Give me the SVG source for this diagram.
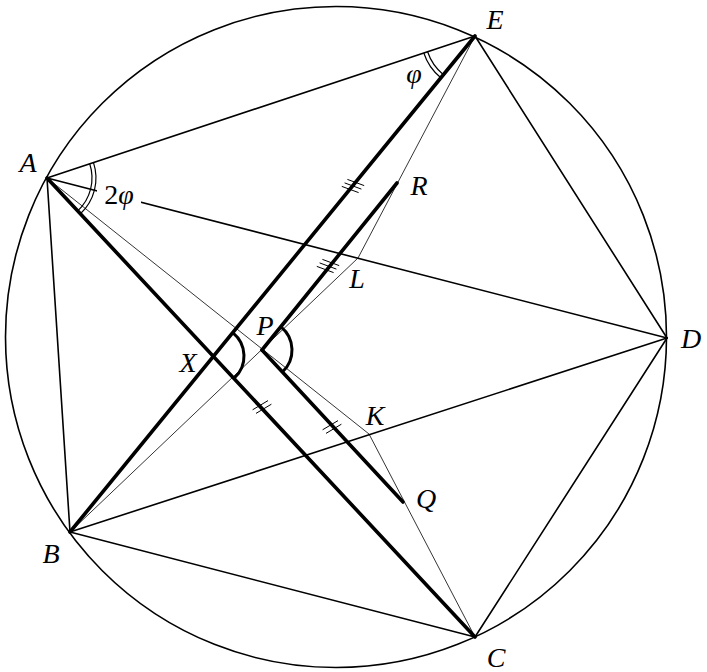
<svg xmlns="http://www.w3.org/2000/svg" width="707" height="672" viewBox="0 0 707 672">
<style>
.med{stroke:#000;stroke-width:1.6;fill:none;stroke-linecap:round}
.thin{stroke:#000;stroke-width:0.8;fill:none}
.thick{stroke:#000;stroke-width:3.6;fill:none;stroke-linecap:round}
.arc1{stroke:#000;stroke-width:1.2;fill:none}
.arc3{stroke:#000;stroke-width:3;fill:none}
.tick{stroke:#000;stroke-width:1;fill:none}
.lbl{font-family:"Liberation Serif",serif;font-style:italic;font-size:28px;text-anchor:middle;fill:#000}
</style>
<rect width="707" height="672" fill="#fff"/>
<g id="connectors">
<circle class="med" cx="336" cy="337" r="330.5"/>
<line class="med" x1="47" y1="178" x2="475" y2="36"/>
<line class="med" x1="475" y1="36" x2="667" y2="338"/>
<line class="med" x1="667" y1="338" x2="475" y2="637"/>
<line class="med" x1="475" y1="637" x2="70" y2="532"/>
<line class="med" x1="70" y1="532" x2="47" y2="178"/>
<line class="med" x1="47" y1="178" x2="667" y2="338"/>
<line class="med" x1="70" y1="532" x2="667" y2="338"/>
<polyline class="thin" points="47,178 369,434 475,637"/>
<polyline class="thin" points="70,532 358,258 475,36"/>
<line class="thick" x1="47" y1="178" x2="475" y2="637"/>
<line class="thick" x1="70" y1="532" x2="475" y2="36"/>
<line class="thick" x1="262" y1="350" x2="397" y2="183"/>
<line class="thick" x1="262" y1="350" x2="403" y2="502"/>
</g>
<g id="angles">
<path class="arc1" d="M89.7,163.8 A45,45 0 0 1 77.7,210.9"/>
<path class="arc1" d="M93.5,162.6 A49,49 0 0 1 80.4,213.8"/>
<path class="arc1" d="M427.6,51.8 A50,50 0 0 0 443.4,74.7"/>
<path class="arc1" d="M423.8,53 A54,54 0 0 0 440.8,77.8"/>
<path class="arc3" d="M233,332.8 A30,30 0 0 1 234.4,378"/>
<path class="arc3" d="M281,326.8 A30,30 0 0 1 282.4,372"/>
</g>
<g id="ticks">
<line class="tick" x1="341.8" y1="186.4" x2="358.6" y2="192.6"/>
<line class="tick" x1="344.6" y1="182.9" x2="361.4" y2="189.1"/>
<line class="tick" x1="347.4" y1="179.4" x2="364.2" y2="185.6"/>
<line class="tick" x1="316.8" y1="266.4" x2="333.6" y2="272.6"/>
<line class="tick" x1="319.6" y1="262.9" x2="336.4" y2="269.1"/>
<line class="tick" x1="322.4" y1="259.4" x2="339.2" y2="265.6"/>
<line class="tick" x1="252.6" y1="409.8" x2="268" y2="400.6"/>
<line class="tick" x1="256" y1="413.4" x2="271.4" y2="404.2"/>
<line class="tick" x1="322.6" y1="429.8" x2="338" y2="420.6"/>
<line class="tick" x1="326" y1="433.4" x2="341.4" y2="424.2"/>
</g>
<g id="labels">
<rect x="97" y="182" width="44" height="31" fill="#fff"/>
<text x="119" y="204" font-family="Liberation Serif, serif" font-size="28" text-anchor="middle">2<tspan font-style="italic">φ</tspan></text>
<text class="lbl" x="414" y="83">φ</text>
</g>
<g id="node-A"><text class="lbl" x="28" y="172">A</text></g>
<g id="node-B"><text class="lbl" x="51" y="563">B</text></g>
<g id="node-C"><text class="lbl" x="496" y="667">C</text></g>
<g id="node-D"><text class="lbl" x="691" y="348">D</text></g>
<g id="node-E"><text class="lbl" x="495" y="29">E</text></g>
<g id="node-X"><text class="lbl" x="188" y="372">X</text></g>
<g id="node-P"><text class="lbl" x="265" y="335">P</text></g>
<g id="node-R"><text class="lbl" x="419" y="195">R</text></g>
<g id="node-L"><text class="lbl" x="357" y="288">L</text></g>
<g id="node-K"><text class="lbl" x="375" y="425">K</text></g>
<g id="node-Q"><text class="lbl" x="426" y="508">Q</text></g>
</svg>
